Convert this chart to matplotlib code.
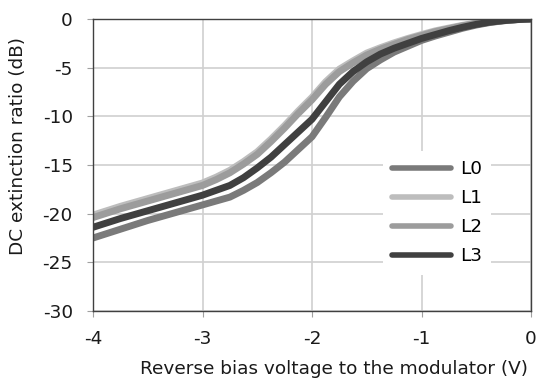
import matplotlib
matplotlib.use("Agg")
import matplotlib.pyplot as plt

voltage = [-4.0, -3.75, -3.5, -3.25, -3.0, -2.875, -2.75, -2.625, -2.5, -2.375, -2.25, -2.125,
           -2.0, -1.875, -1.75, -1.625, -1.5, -1.375, -1.25, -1.125, -1.0, -0.875, -0.75,
           -0.625, -0.5, -0.375, -0.25, -0.125, 0.0]
L0 = [-22.5, -21.6, -20.7, -19.9, -19.1, -18.7, -18.3, -17.6, -16.8, -15.8, -14.7, -13.4,
      -12.1, -10.1, -8.0, -6.4, -5.1, -4.2, -3.4, -2.8, -2.2, -1.75, -1.35,
      -0.95, -0.62, -0.36, -0.18, -0.06, 0.0]
L1 = [-20.15, -19.25, -18.45, -17.65, -16.85, -16.25, -15.55, -14.65, -13.65, -12.35, -10.95, -9.45,
      -8.05, -6.45, -5.15, -4.3, -3.5, -2.95, -2.45, -2.0, -1.6, -1.22, -0.93,
      -0.65, -0.42, -0.26, -0.14, -0.05, 0.0]
L2 = [-20.4, -19.5, -18.7, -17.9, -17.1, -16.5, -15.8, -14.9, -13.9, -12.6, -11.2, -9.7,
      -8.3, -6.7, -5.4, -4.5, -3.7, -3.1, -2.6, -2.1, -1.7, -1.3, -1.0,
      -0.7, -0.45, -0.28, -0.15, -0.05, 0.0]
L3 = [-21.4, -20.5, -19.7, -18.9, -18.1, -17.6, -17.1, -16.3, -15.3, -14.2, -12.9, -11.6,
      -10.3, -8.5, -6.7, -5.4, -4.4, -3.6, -3.0, -2.5, -2.0, -1.6, -1.2,
      -0.85, -0.55, -0.32, -0.17, -0.06, 0.0]

series_names = ["L0", "L1", "L2", "L3"]
series_colors = ["#7a7a7a", "#bdbdbd", "#9c9c9c", "#404040"]
xticks = [-4, -3, -2, -1, 0]
yticks = [0, -5, -10, -15, -20, -25, -30]

plt.rcParams['font.family'] = ['DejaVu Sans']
FS = 13.3
fig = plt.figure(figsize=(5.37, 3.80), dpi=100)
ax = fig.add_axes([93/537, 1-311/380, 438/537, 292/380])

for name, vals, col in zip(series_names, [L0, L1, L2, L3], series_colors):
    ax.plot(voltage, vals, color=col, lw=5.0, label=name,
            solid_joinstyle='round', solid_capstyle='butt')

ax.set_xlim(-4, 0)
ax.set_ylim(-30, 0)
ax.set_xticks(xticks)
ax.set_yticks(yticks)
ax.set_xticklabels([str(t) for t in xticks])
ax.set_yticklabels([str(t) for t in yticks])
ax.grid(True, color="#d0d0d0", lw=1.2)
ax.set_axisbelow(True)
for s in ax.spines.values():
    s.set_color("#404040")
    s.set_linewidth(1.0)
ax.tick_params(axis='both', direction='out', length=4.5, color="#a0a0a0",
               labelsize=FS, labelcolor="#1a1a1a")
ax.tick_params(axis='x', pad=9)
ax.tick_params(axis='y', pad=10)

ax.set_xlabel("Reverse bias voltage to the modulator (V)", fontsize=FS, color="#1a1a1a",
              ha='right')
ax.xaxis.set_label_coords((528-93)/438, -(378-311)/292)
ax.xaxis.label.set_va('bottom')
fig.text(18/537, 1-146/380, "DC extinction ratio (dB)", rotation=90, fontsize=FS,
         color="#1a1a1a", ha='center', va='center')

leg = ax.legend(loc='upper left', bbox_to_anchor=((383-93)/438, 1-(151-19)/292),
                frameon=True, fontsize=FS, handlelength=3.2, handletextpad=0.45,
                labelspacing=0.6, borderpad=0.5, borderaxespad=0)
leg.get_frame().set_edgecolor('none')
leg.get_frame().set_facecolor('white')
leg.get_frame().set_alpha(1)
for line in leg.get_lines():
    line.set_linewidth(4)
    line.set_solid_capstyle('round')

fig.savefig("out.png", dpi=100)
